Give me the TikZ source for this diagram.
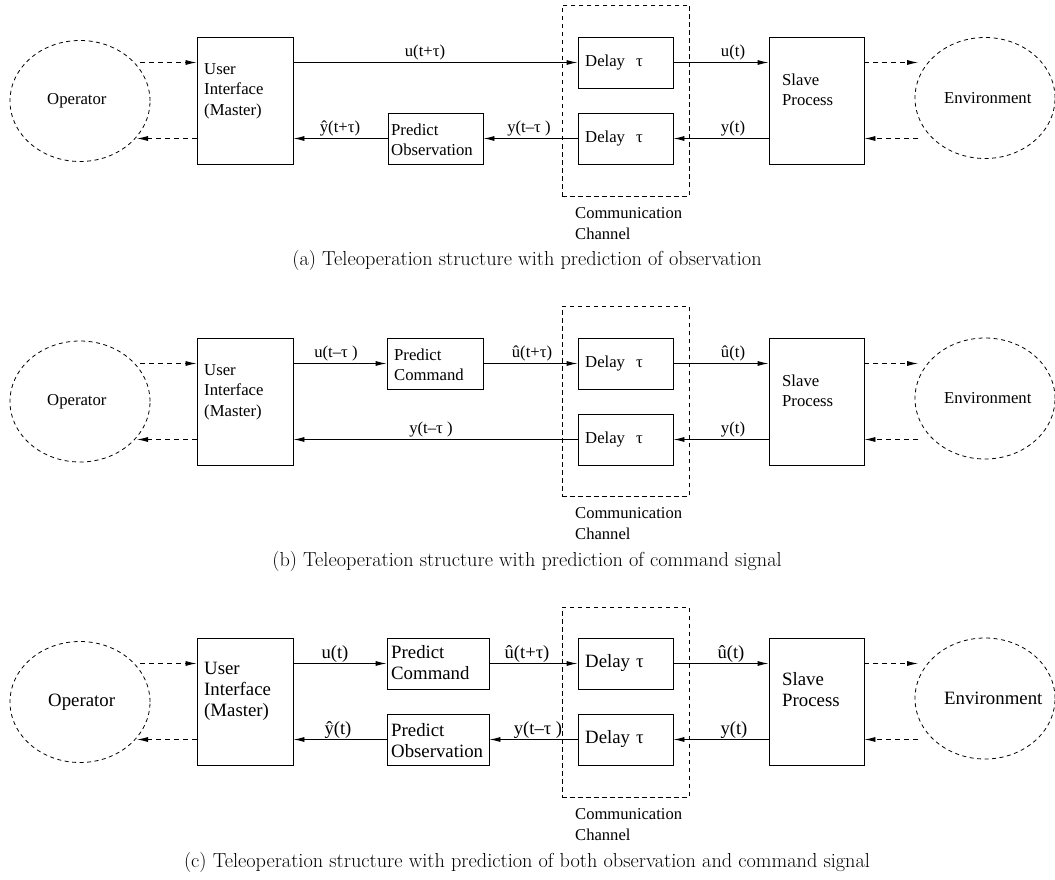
\documentclass[tikz,border=0pt]{standalone}
\usepackage{fontspec}
\newfontfamily\tms{Liberation Serif}
\usetikzlibrary{arrows.meta,shapes.geometric}
\tikzset{
  bx/.style={draw, rectangle, line width=0.9pt, inner sep=0pt},
  ell/.style={draw, ellipse, line width=0.8pt, dash pattern=on 4pt off 3.5pt, inner sep=0pt, minimum width=140, minimum height=121},
  chan/.style={draw, rectangle, line width=0.8pt, dash pattern=on 4.5pt off 3.5pt, inner sep=0pt},
  lbl/.style={inner sep=0pt, font=\tms\fontsize{16.7}{20.5}\selectfont},
  lblc/.style={inner sep=0pt, font=\tms\fontsize{18.6}{20.5}\selectfont},
  txt/.style={inner sep=0pt, anchor=west, align=left, font=\tms\fontsize{16.7}{20.5}\selectfont},
  txtc/.style={inner sep=0pt, anchor=west, align=left, font=\tms\fontsize{18.8}{21}\selectfont},
  ctxt/.style={inner sep=0pt, anchor=north west, align=left, font=\tms\fontsize{16.6}{21}\selectfont},
  captext/.style={inner sep=0pt, anchor=base, font=\fontsize{20.3}{24}\selectfont},
  arr/.style={line width=0.9pt, -{Latex[length=11pt,width=5pt]}},
  darr/.style={line width=0.8pt, dash pattern=on 5pt off 4pt, -{Latex[length=11pt,width=5pt]}},
}
\begin{document}
\begin{tikzpicture}[x=1pt,y=-1pt]
\useasboundingbox (0,0) rectangle (1055,880);

% ================= panel (a) =================
\node[ell] (opA) at (80,101) {};
\node[txt] (opAt) at (47,101) {Operator};
\node[bx, minimum width=96, minimum height=127] (uiA) at (245,100.5) {};
\node[txt] (uiAt) at (204,91) {User\\Interface\\(Master)};
\node[bx, minimum width=95, minimum height=51] (poA) at (435.5,138.5) {};
\node[txt] (poAt) at (391,140) {Predict\\Observation};
\node[chan, minimum width=127, minimum height=191] (chA) at (625.5,100.5) {};
\node[bx, minimum width=95, minimum height=51] (d1A) at (625.5,62.5) {};
\node[txt] (d1At) at (585,62.5) {Delay\hspace{11pt}τ};
\node[bx, minimum width=95, minimum height=51] (d2A) at (625.5,138.5) {};
\node[txt] (d2At) at (585,138.5) {Delay\hspace{11pt}τ};
\node[bx, minimum width=95, minimum height=127] (slA) at (816.5,100.5) {};
\node[txt] (slAt) at (782,90) {Slave\\Process};
\node[ell] (enA) at (985,98) {};
\node[txt] (enAt) at (944,98) {Environment};
\node[ctxt] (chAt) at (575,207) {Communication\\Channel};

\coordinate (oA1) at (140,62.5);
\coordinate (oA2) at (137,138.5);
\coordinate (eA1) at (918,62.5);
\coordinate (eA2) at (918,138.5);
\draw[darr] (oA1) -- (uiA.west |- oA1);
\draw[darr] (uiA.west |- oA2) -- (oA2);
\draw[darr] (slA.east |- eA1) -- (eA1);
\draw[darr] (eA2) -- (slA.east |- eA2);
\draw[arr] (uiA.east |- d1A.west) -- (d1A.west);
\draw[arr] (d1A.east) -- (slA.west |- d1A.east);
\draw[arr] (slA.west |- d2A.east) -- (d2A.east);
\draw[arr] (d2A.west) -- (poA.east);
\draw[arr] (poA.west) -- (uiA.east |- poA.west);
\node[lbl, anchor=base] at (425,56.5) {u(t+τ)};
\node[lbl, anchor=base] at (733,56.5) {u(t)};
\node[lbl, anchor=base] at (733,132.5) {y(t)};
\node[lbl, anchor=base] at (529,132.5) {y(t–τ )};
\node[lbl, anchor=base] at (340,132.5) {ŷ(t+τ)};
\node[captext] (capA) at (527,265) {(a) Teleoperation structure with prediction of observation};

% ================= panel (b) =================
\node[ell] (opB) at (80,401.5) {};
\node[txt] (opBt) at (47,401.5) {Operator};
\node[bx, minimum width=96, minimum height=127] (uiB) at (245,401.5) {};
\node[txt] (uiBt) at (204,392) {User\\Interface\\(Master)};
\node[bx, minimum width=96, minimum height=51] (pcB) at (435,363.5) {};
\node[txt] (pcBt) at (394,365) {Predict\\Command};
\node[chan, minimum width=127, minimum height=190] (chB) at (625.5,401) {};
\node[bx, minimum width=95, minimum height=51] (d1B) at (625.5,363.5) {};
\node[txt] (d1Bt) at (585,363.5) {Delay\hspace{11pt}τ};
\node[bx, minimum width=95, minimum height=51] (d2B) at (625.5,439.5) {};
\node[txt] (d2Bt) at (585,439.5) {Delay\hspace{11pt}τ};
\node[bx, minimum width=95, minimum height=127] (slB) at (816.5,401.5) {};
\node[txt] (slBt) at (782,391) {Slave\\Process};
\node[ell] (enB) at (985,398.5) {};
\node[txt] (enBt) at (944,398.5) {Environment};
\node[ctxt] (chBt) at (575,507) {Communication\\Channel};

\coordinate (oB1) at (140,363.5);
\coordinate (oB2) at (137,439.5);
\coordinate (eB1) at (918,363.5);
\coordinate (eB2) at (918,439.5);
\draw[darr] (oB1) -- (uiB.west |- oB1);
\draw[darr] (uiB.west |- oB2) -- (oB2);
\draw[darr] (slB.east |- eB1) -- (eB1);
\draw[darr] (eB2) -- (slB.east |- eB2);
\draw[arr] (uiB.east |- pcB.west) -- (pcB.west);
\draw[arr] (pcB.east) -- (d1B.west);
\draw[arr] (d1B.east) -- (slB.west |- d1B.east);
\draw[arr] (slB.west |- d2B.east) -- (d2B.east);
\draw[arr] (d2B.west) -- (uiB.east |- d2B.west);
\node[lbl, anchor=base] at (336,357.5) {u(t–τ )};
\node[lbl, anchor=base] at (532,357.5) {û(t+τ)};
\node[lbl, anchor=base] at (733,357.5) {û(t)};
\node[lbl, anchor=base] at (733,433.5) {y(t)};
\node[lbl, anchor=base] at (431,433.5) {y(t–τ )};
\node[captext] (capB) at (527,566) {(b) Teleoperation structure with prediction of command signal};

% ================= panel (c) =================
\node[ell] (opC) at (80,702) {};
\node[txtc] (opCt) at (48,702) {Operator};
\node[bx, minimum width=96, minimum height=127] (uiC) at (245,701.5) {};
\node[txtc] (uiCt) at (204,691) {User\\Interface\\(Master)};
\node[bx, minimum width=102, minimum height=51] (pcC) at (438,663.5) {};
\node[txtc] (pcCt) at (391,663) {Predict\\Command};
\node[bx, minimum width=102, minimum height=51] (poC) at (438,739.5) {};
\node[txtc] (poCt) at (391,741) {Predict\\Observation};
\node[chan, minimum width=127, minimum height=190] (chC) at (625.5,702) {};
\node[bx, minimum width=95, minimum height=51] (d1C) at (625.5,663.5) {};
\node[txtc] (d1Ct) at (585,663.5) {Delay\hspace{6pt}τ};
\node[bx, minimum width=95, minimum height=51] (d2C) at (625.5,739.5) {};
\node[txtc] (d2Ct) at (585,739.5) {Delay\hspace{6pt}τ};
\node[bx, minimum width=95, minimum height=127] (slC) at (816.5,701.5) {};
\node[txtc] (slCt) at (782,690) {Slave\\Process};
\node[ell] (enC) at (985,698.5) {};
\node[txtc] (enCt) at (944,698.5) {Environment};
\node[ctxt] (chCt) at (575,808) {Communication\\Channel};

\coordinate (oC1) at (140,663.5);
\coordinate (oC2) at (137,739.5);
\coordinate (eC1) at (918,663.5);
\coordinate (eC2) at (918,739.5);
\draw[darr] (oC1) -- (uiC.west |- oC1);
\draw[darr] (uiC.west |- oC2) -- (oC2);
\draw[darr] (slC.east |- eC1) -- (eC1);
\draw[darr] (eC2) -- (slC.east |- eC2);
\draw[arr] (uiC.east |- pcC.west) -- (pcC.west);
\draw[arr] (pcC.east) -- (d1C.west);
\draw[arr] (d1C.east) -- (slC.west |- d1C.east);
\draw[arr] (slC.west |- d2C.east) -- (d2C.east);
\draw[arr] (d2C.west) -- (poC.east);
\draw[arr] (poC.west) -- (uiC.east |- poC.west);
\node[lblc, anchor=base] at (335,658.5) {u(t)};
\node[lblc, anchor=base] at (527,658.5) {û(t+τ)};
\node[lblc, anchor=base] at (731,658.5) {û(t)};
\node[lblc, anchor=base] at (734,734.5) {y(t)};
\node[lblc, anchor=base] at (538,734.5) {y(t–τ )};
\node[lblc, anchor=base] at (338,734.5) {ŷ(t)};
\node[captext] (capC) at (527,867) {(c) Teleoperation structure with prediction of both observation and command signal};
\end{tikzpicture}
\end{document}
